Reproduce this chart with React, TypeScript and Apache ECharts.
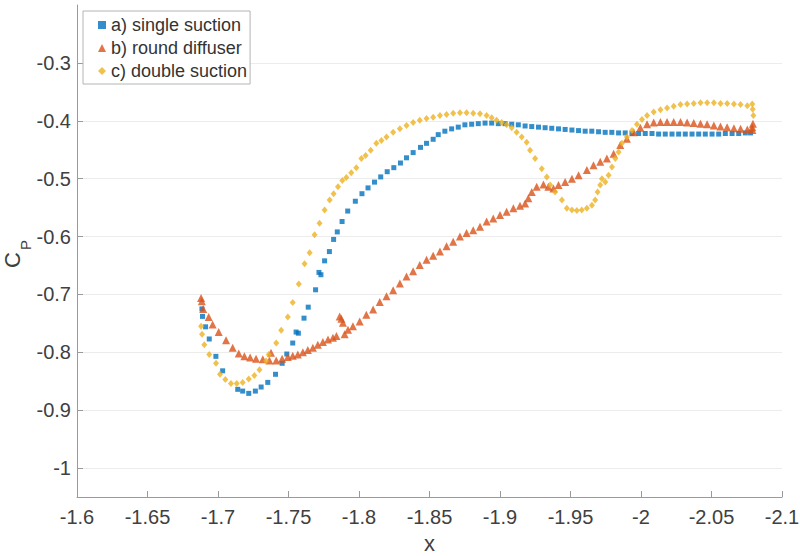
import React, { useEffect, useRef } from "react";
import * as echarts from "echarts";

const seriesNames = ["a) single suction", "b) round diffuser", "c) double suction"];
const seriesColors = ["#0072BD", "#D95319", "#EDB120"];

const singleSuction: number[][] = [
  [-1.6886, -0.725], [-1.689, -0.738], [-1.6912, -0.756], [-1.6938, -0.777], [-1.6985, -0.807],
  [-1.7033, -0.832], [-1.714, -0.864], [-1.7175, -0.867], [-1.7218, -0.871], [-1.7265, -0.867],
  [-1.7306, -0.86], [-1.7353, -0.852], [-1.7408, -0.838], [-1.7455, -0.819], [-1.7488, -0.803],
  [-1.753, -0.784], [-1.7554, -0.765], [-1.757, -0.767], [-1.761, -0.741], [-1.764, -0.722],
  [-1.7692, -0.692], [-1.7716, -0.662], [-1.773, -0.666], [-1.7756, -0.642], [-1.779, -0.626],
  [-1.782, -0.605], [-1.7846, -0.592], [-1.788, -0.574], [-1.792, -0.556], [-1.7974, -0.539],
  [-1.8021, -0.526], [-1.8064, -0.516], [-1.811, -0.506], [-1.8154, -0.497], [-1.82, -0.488],
  [-1.8247, -0.481], [-1.8294, -0.473], [-1.8337, -0.464], [-1.8384, -0.455], [-1.8436, -0.446],
  [-1.8479, -0.439], [-1.8526, -0.432], [-1.8562, -0.424], [-1.8609, -0.418], [-1.8657, -0.414],
  [-1.8704, -0.411], [-1.8751, -0.407], [-1.8799, -0.406], [-1.8846, -0.405], [-1.8894, -0.404],
  [-1.8941, -0.404], [-1.8988, -0.405], [-1.9036, -0.405], [-1.9083, -0.406], [-1.913, -0.407],
  [-1.9178, -0.409], [-1.9225, -0.41], [-1.9273, -0.411], [-1.932, -0.412], [-1.9367, -0.413],
  [-1.9415, -0.414], [-1.9462, -0.415], [-1.951, -0.416], [-1.9557, -0.417], [-1.9604, -0.418],
  [-1.9651, -0.418], [-1.9699, -0.419], [-1.9746, -0.42], [-1.9793, -0.42], [-1.9841, -0.421],
  [-1.9888, -0.421], [-1.9936, -0.422], [-1.9983, -0.422], [-2.003, -0.422], [-2.0078, -0.422],
  [-2.0125, -0.423], [-2.0172, -0.423], [-2.022, -0.423], [-2.0267, -0.423], [-2.0314, -0.423],
  [-2.0362, -0.423], [-2.0409, -0.423], [-2.0456, -0.423], [-2.0504, -0.423], [-2.0551, -0.423],
  [-2.0598, -0.422], [-2.0646, -0.422], [-2.0693, -0.422], [-2.074, -0.421], [-2.0777, -0.421],
];

const roundDiffuser: number[][] = [
  [-1.688, -0.706], [-1.6885, -0.712], [-1.6895, -0.725], [-1.6934, -0.739], [-1.6962, -0.752],
  [-1.7005, -0.765], [-1.7057, -0.779], [-1.7104, -0.792], [-1.7147, -0.802], [-1.7187, -0.807],
  [-1.7228, -0.809], [-1.727, -0.811], [-1.7318, -0.812], [-1.7365, -0.814], [-1.7376, -0.801],
  [-1.7413, -0.814], [-1.7455, -0.811], [-1.7495, -0.808], [-1.753, -0.806], [-1.7566, -0.804],
  [-1.7602, -0.8], [-1.7637, -0.796], [-1.7673, -0.792], [-1.7708, -0.787], [-1.7744, -0.782],
  [-1.778, -0.778], [-1.7815, -0.775], [-1.784, -0.772], [-1.7863, -0.738], [-1.7875, -0.742],
  [-1.7886, -0.749], [-1.7898, -0.769], [-1.7922, -0.761], [-1.7957, -0.755], [-1.8005, -0.747],
  [-1.8052, -0.735], [-1.81, -0.726], [-1.8147, -0.713], [-1.8195, -0.703], [-1.8242, -0.693],
  [-1.829, -0.681], [-1.8337, -0.669], [-1.8384, -0.66], [-1.8431, -0.649], [-1.8479, -0.64],
  [-1.8526, -0.633], [-1.8574, -0.626], [-1.8621, -0.617], [-1.8668, -0.609], [-1.8716, -0.6],
  [-1.8763, -0.594], [-1.881, -0.589], [-1.8858, -0.583], [-1.8905, -0.574], [-1.8952, -0.569],
  [-1.9, -0.563], [-1.9047, -0.557], [-1.9095, -0.551], [-1.9142, -0.547], [-1.9178, -0.543],
  [-1.9201, -0.534], [-1.9225, -0.523], [-1.926, -0.514], [-1.9308, -0.51], [-1.9343, -0.514],
  [-1.9379, -0.517], [-1.9415, -0.511], [-1.9462, -0.506], [-1.951, -0.5], [-1.9557, -0.494],
  [-1.9616, -0.485], [-1.9663, -0.477], [-1.9711, -0.471], [-1.9758, -0.465], [-1.9806, -0.457],
  [-1.9853, -0.442], [-1.99, -0.431], [-1.9948, -0.42], [-1.9995, -0.412], [-2.0043, -0.406],
  [-2.009, -0.403], [-2.0138, -0.402], [-2.0185, -0.402], [-2.0232, -0.402], [-2.028, -0.402],
  [-2.0327, -0.403], [-2.0374, -0.404], [-2.0422, -0.405], [-2.0469, -0.406], [-2.0517, -0.408],
  [-2.0564, -0.41], [-2.0611, -0.411], [-2.0659, -0.413], [-2.0706, -0.414], [-2.0754, -0.415],
  [-2.0789, -0.411], [-2.0794, -0.405], [-2.079, -0.416],
];

const doubleSuction: number[][] = [
  [-1.688, -0.755], [-1.6887, -0.769], [-1.6903, -0.787], [-1.6938, -0.804], [-1.6986, -0.819],
  [-1.7014, -0.838], [-1.7052, -0.847], [-1.7092, -0.854], [-1.7133, -0.854], [-1.7175, -0.852],
  [-1.7218, -0.846], [-1.7258, -0.84], [-1.7294, -0.83], [-1.7341, -0.815], [-1.736, -0.804],
  [-1.7413, -0.784], [-1.7448, -0.762], [-1.7495, -0.739], [-1.753, -0.714], [-1.7573, -0.682],
  [-1.7614, -0.647], [-1.765, -0.628], [-1.7685, -0.597], [-1.772, -0.577], [-1.7756, -0.554],
  [-1.7792, -0.537], [-1.782, -0.526], [-1.7851, -0.514], [-1.7882, -0.503], [-1.791, -0.498],
  [-1.7945, -0.49], [-1.7981, -0.481], [-1.8017, -0.465], [-1.8047, -0.46], [-1.8083, -0.451],
  [-1.8123, -0.439], [-1.8159, -0.434], [-1.8195, -0.428], [-1.8242, -0.42], [-1.829, -0.414],
  [-1.8337, -0.408], [-1.8384, -0.403], [-1.8431, -0.399], [-1.8479, -0.396], [-1.8526, -0.394],
  [-1.8574, -0.391], [-1.8621, -0.389], [-1.8668, -0.387], [-1.8716, -0.386], [-1.8763, -0.386],
  [-1.881, -0.387], [-1.8858, -0.388], [-1.8905, -0.391], [-1.8941, -0.395], [-1.8976, -0.399],
  [-1.9012, -0.403], [-1.9047, -0.407], [-1.9083, -0.412], [-1.9118, -0.42], [-1.9154, -0.428],
  [-1.9189, -0.437], [-1.9213, -0.451], [-1.9249, -0.465], [-1.9296, -0.483], [-1.9332, -0.497],
  [-1.9356, -0.511], [-1.9391, -0.523], [-1.9439, -0.537], [-1.9474, -0.551], [-1.951, -0.554],
  [-1.9545, -0.555], [-1.958, -0.554], [-1.9616, -0.551], [-1.9652, -0.546], [-1.9675, -0.537],
  [-1.9692, -0.523], [-1.9711, -0.511], [-1.9723, -0.5], [-1.9747, -0.506], [-1.977, -0.494],
  [-1.9794, -0.48], [-1.9818, -0.465], [-1.9841, -0.454], [-1.9865, -0.439], [-1.99, -0.428],
  [-1.9936, -0.417], [-1.9971, -0.406], [-2.0007, -0.398], [-2.0043, -0.391], [-2.009, -0.385],
  [-2.0138, -0.381], [-2.0185, -0.378], [-2.0232, -0.375], [-2.028, -0.372], [-2.0327, -0.371],
  [-2.0374, -0.37], [-2.0422, -0.369], [-2.0469, -0.369], [-2.0517, -0.369], [-2.0564, -0.37],
  [-2.0611, -0.37], [-2.0659, -0.371], [-2.0706, -0.372], [-2.0754, -0.374], [-2.0789, -0.371],
  [-2.0792, -0.38], [-2.0797, -0.391],
];

const xMin = -2.1;
const xMax = -1.6;
const xStep = 0.05;
const yMin = -1.05;
const yMax = -0.2;
const yTitleMain = "C";
const yTitleSub = "P";

const FONT = "Liberation Sans, Arial, Helvetica, sans-serif";
const TEXT = "#404040";
const AXIS = "#9a9a9a";
const GRID = "#ececec";

export default function App() {
  const ref = useRef<HTMLDivElement>(null);
  useEffect(() => {
    if (!ref.current) return;
    const chart = echarts.init(ref.current, null, { renderer: "svg" });
    const splitColors = Array(10).fill(GRID);
    splitColors[9] = "rgba(0,0,0,0)";
    chart.setOption({
      animation: false,
      backgroundColor: "#ffffff",
      textStyle: { fontFamily: FONT },
      grid: { left: 77, right: 18, top: 5, bottom: 59, containLabel: false, outerBoundsMode: "none" },
      graphic: [
        {
          type: "text",
          x: 12,
          y: 260,
          rotation: Math.PI / 2,
          style: { text: yTitleMain, fontSize: 22, fontFamily: FONT, fill: TEXT, align: "center", verticalAlign: "middle" },
        },
        {
          type: "text",
          x: 25,
          y: 245,
          rotation: Math.PI / 2,
          style: { text: yTitleSub, fontSize: 15, fontFamily: FONT, fill: TEXT, align: "center", verticalAlign: "middle" },
        },
      ],
      legend: {
        orient: "vertical",
        left: 83,
        top: 11,
        padding: [5, 3, 4, 15],
        itemGap: 5,
        itemWidth: 8,
        itemHeight: 8,
        backgroundColor: "#ffffff",
        borderColor: "#b4b4b4",
        borderWidth: 1,
        borderRadius: 0,
        textStyle: { fontSize: 18, color: "#333333", fontFamily: FONT, lineHeight: 18 },
        data: [
          { name: seriesNames[0], icon: "rect" },
          { name: seriesNames[1], icon: "triangle" },
          { name: seriesNames[2], icon: "diamond" },
        ],
      },
      xAxis: {
        type: "value",
        min: xMin,
        max: xMax,
        interval: xStep,
        inverse: true,
        name: "x",
        nameLocation: "middle",
        nameGap: 35,
        nameTextStyle: { fontSize: 22, color: TEXT, fontFamily: FONT },
        axisLine: { show: true, lineStyle: { color: AXIS, width: 1 } },
        axisTick: { show: true, inside: true, length: 6, lineStyle: { color: AXIS } },
        axisLabel: { fontSize: 20, color: TEXT, margin: 10, fontFamily: FONT },
        splitLine: { show: false },
      },
      yAxis: {
        type: "value",
        min: yMin,
        max: yMax,
        splitNumber: 8,
        axisLine: { show: true, lineStyle: { color: AXIS, width: 1 } },
        axisTick: { show: true, inside: true, length: 6, lineStyle: { color: AXIS } },
        axisLabel: { fontSize: 20, color: TEXT, margin: 6, fontFamily: FONT, showMinLabel: false, showMaxLabel: false },
        splitLine: { show: true, lineStyle: { color: splitColors, width: 1 } },
      },
      series: [
        {
          name: seriesNames[0],
          type: "scatter",
          symbol: "rect",
          symbolSize: 5,
          itemStyle: { color: seriesColors[0] },
          data: singleSuction,
        },
        {
          name: seriesNames[1],
          type: "scatter",
          symbol: "triangle",
          symbolSize: 8,
          itemStyle: { color: seriesColors[1] },
          data: roundDiffuser,
        },
        {
          name: seriesNames[2],
          type: "scatter",
          symbol: "diamond",
          symbolSize: [6, 7],
          itemStyle: { color: seriesColors[2] },
          data: doubleSuction,
        },
      ],
    });
    return () => chart.dispose();
  }, []);
  return <div ref={ref} style={{ width: 800, height: 556, position: "fixed", left: 0, top: 0 }} />;
}
